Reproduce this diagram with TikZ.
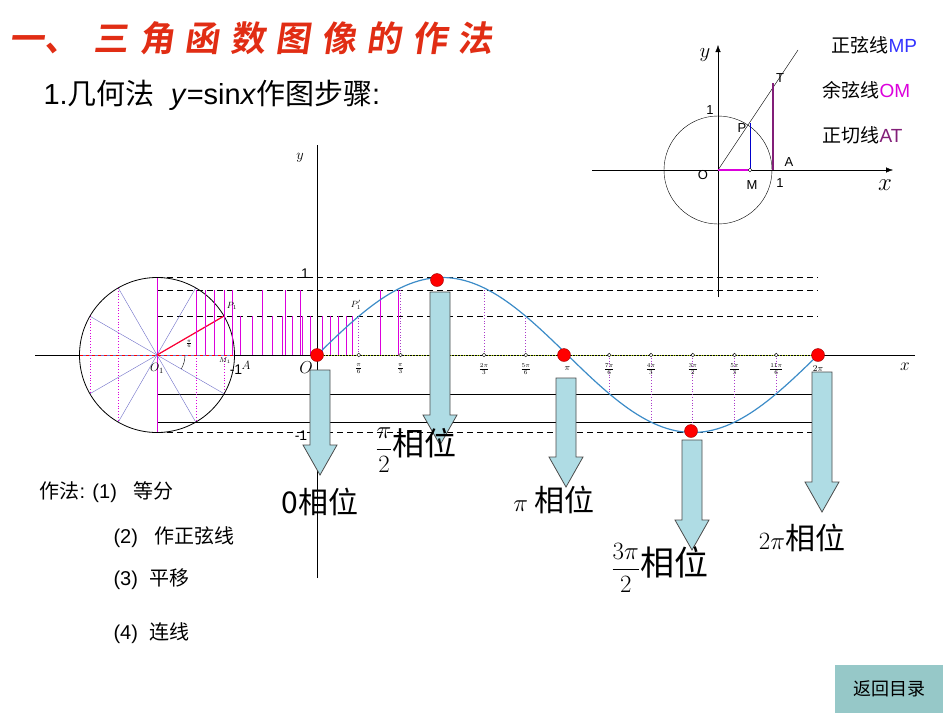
\documentclass[tikz,border=0pt]{standalone}
\usepackage{fontspec}
\setmainfont{Liberation Sans}
\newfontfamily\cjk{Noto Sans CJK SC}
\newfontfamily\cjkb{Noto Sans CJK SC}[BoldFont=* Bold]
\usetikzlibrary{arrows.meta}
\definecolor{titler}{RGB}{225,45,20}
\definecolor{mag}{RGB}{220,0,220}
\definecolor{rad}{RGB}{110,110,200}
\definecolor{curveb}{RGB}{60,140,200}
\definecolor{arrf}{RGB}{175,220,228}
\definecolor{btn}{RGB}{150,200,200}
\definecolor{dotp}{RGB}{170,60,200}
\definecolor{atc}{RGB}{130,30,120}
\tikzset{
 hline/.style={dashed,thick,dash pattern=on 6pt off 4pt},
 bigarrow/.style={draw=black!70,fill=arrf,line width=0.8pt},
 reddot/.style={circle,fill=red,draw=red!60!black,inner sep=0pt,minimum size=13pt},
 lab/.style={font=\cjk\fontsize{30}{30}\selectfont}
}
\newcommand\blockarrow[3]{\draw[bigarrow] ({#1-10},#2) -- ({#1+10},#2) -- ({#1+10},{#3-30}) -- ({#1+17},{#3-30}) -- (#1,#3) -- ({#1-17},{#3-30}) -- ({#1-10},{#3-30}) -- cycle;}
\begin{document}
\begin{tikzpicture}[x=1pt,y=-1pt]
\useasboundingbox (0,0) rectangle (950,713);
\fill[white] (0,0) rectangle (950,713);
% title
\node[anchor=west,text=titler,font=\cjkb\bfseries\fontsize{35}{35}\selectfont,xslant=0.15] (title) at (8,38) {一、\hspace{0.4em}三\hspace{0.3em}角\hspace{0.3em}函\hspace{0.3em}数\hspace{0.3em}图\hspace{0.3em}像\hspace{0.3em}的\hspace{0.3em}作\hspace{0.3em}法};
\node[anchor=west,font=\fontsize{29}{29}\selectfont] (sub) at (40,95) {1.{\cjk 几何法}\ \ \textit{y}=sin\textit{x}{\cjk 作图步骤}:};
% horizontal lines
\draw[hline] (157,277) -- (818,277);
\draw[hline] (157,290) -- (818,290);
\draw[hline] (157,316) -- (818,316);
\draw[thick] (157,394) -- (818,394);
\draw[thick] (157,422) -- (818,422);
\draw[hline] (157,432) -- (818,432);
% axes
\draw[thick] (35,355) -- (915,355);
\draw[thick] (317,578) -- (317,145);
\draw[yellow!70!green,dotted,thick] (317,355) -- (818,355);
% circle
\coordinate (O1) at (157,355);
\foreach \a in {0,30,...,330} \draw[rad] (O1) -- ++({77.5*cos(\a)},{-77.5*sin(\a)});
\draw[mag,thick] (157,277) -- (157,432);
\foreach \x in {90,118,196,224} \draw[mag,dotted,thick] (\x,{355-sqrt(77.5*77.5-(\x-157)*(\x-157))}) -- (\x,{355+sqrt(77.5*77.5-(\x-157)*(\x-157))});
\draw[red!80!magenta,very thick] (O1) -- (224,316);
\draw[red,dashed,thick] (80,355) -- (235,355);
\draw (185,355) arc (0:30:28);
\draw[thick] (O1) circle (77.5);
% pink projection lines
\foreach \x in {196,205,214,224,232} \draw[mag,thick] (\x,355) -- (\x,290);
\foreach \x in {240,252,262,272,282,292,302,310,322,330,338,346,352} \draw[mag,thick] (\x,355) -- (\x,316);
\foreach \x in {262,285,300,380,398} \draw[mag,thick] (\x,355) -- (\x,290);
% sine curve
\draw[curveb,very thick] plot[domain=0:360,samples=120] ({317+\x*1.391667},{355-77.5*sin(\x)});
% sample verticals and labels
\foreach \k/\t in {1/\frac{\pi}{6},2/\frac{\pi}{3},4/\frac{2\pi}{3},5/\frac{5\pi}{6},6/\pi,7/\frac{7\pi}{6},8/\frac{4\pi}{3},9/\frac{3\pi}{2},10/\frac{5\pi}{3},11/\frac{11\pi}{6},12/2\pi}{
 \draw[dotp,dotted,thick] ({317+\k*41.75},355) -- ({317+\k*41.75},{355-77.5*sin(\k*30)});
 \draw[fill=white] ({317+\k*41.75},355) circle (1.8);
 \node[font=\fontsize{9}{9}\selectfont] at ({317+\k*41.75},369) {$\t$};
}
% small labels
\node[font=\fontsize{14}{14}\selectfont] (one) at (305,274) {1};
\node[font=\fontsize{14}{14}\selectfont] (mone) at (301,436) {-1};
\node[font=\fontsize{18}{18}\selectfont] (xl) at (905,367) {$x$};
\node[font=\fontsize{15}{15}\selectfont] (yl) at (300,158) {$y$};
\node[font=\fontsize{16}{16}\selectfont] (Ol) at (306,368) {$O$};
\node[font=\fontsize{12}{12}\selectfont] (O1l) at (157,368) {$O_1$};
\node[font=\fontsize{12}{12}\selectfont] (Al) at (246,365) {$A$};
\node[font=\fontsize{7}{7}\selectfont] (Ml) at (225,361) {$M_1$};
\node[font=\fontsize{14}{14}\selectfont] (mol) at (236,370) {-1};
\node[font=\fontsize{9}{9}\selectfont] (Pl) at (232,306) {$P_1$};
\node[font=\fontsize{9}{9}\selectfont] (Ppl) at (356,305) {$P_1'$};
\node[font=\fontsize{7}{7}\selectfont] (angl) at (189,344) {$\frac{\pi}{6}$};
% arrows
\blockarrow{320}{370}{475}
\blockarrow{440}{292}{445}
\blockarrow{566}{378}{487}
\blockarrow{692}{440}{550}
\blockarrow{822}{372}{512}
% red dots
\node[reddot] (d0) at (317,355) {};
\node[reddot] (d1) at (437,280) {};
\node[reddot] (d2) at (564,355) {};
\node[reddot] (d3) at (691,431) {};
\node[reddot] (d4) at (818,355) {};
% phase labels
\node[lab] (l0) at (320,502) {0{\cjk 相位}};
\node[lab,anchor=west] (l1) at (372,450) {\fontsize{32}{32}\selectfont$\displaystyle\frac{\pi}{2}${\cjk 相位}};
\node[lab] (l2) at (554,500) {$\pi$ {\cjk 相位}};
\node[lab,anchor=west] (l3) at (608,568) {\fontsize{34}{34}\selectfont$\displaystyle\frac{3\pi}{2}${\cjk 相位}};
\node[lab] (l4) at (802,538) {$2\pi${\cjk 相位}};
% steps
\node[anchor=west,font=\fontsize{20}{20}\selectfont] (s1) at (36,492) {{\cjk 作法}: (1)\ \ \ {\cjk 等分}};
\node[anchor=west,font=\fontsize{20}{20}\selectfont] (s2) at (110,537) {(2)\ \ \ {\cjk 作正弦线}};
\node[anchor=west,font=\fontsize{20}{20}\selectfont] (s3) at (110,579) {(3)\ \ {\cjk 平移}};
\node[anchor=west,font=\fontsize{20}{20}\selectfont] (s4) at (110,633) {(4)\ \ {\cjk 连线}};
% button
\node[fill=btn,minimum width=108pt,minimum height=48pt,font=\cjk\fontsize{18}{18}\selectfont] (btnn) at (889,689) {返回目录};
% inset
\coordinate (o) at (718,170);
\draw[-{Latex[length=7pt]}] (592,170) -- (893,170);
\draw[-{Latex[length=7pt]}] (718,297) -- (718,45);
\draw (o) circle (54);
\draw (o) -- (798,50);
\draw[blue!80!black,thick] (750,170) -- (750,123);
\draw[mag,line width=2.5pt] (o) -- (750,170);
\draw[atc,line width=2.5pt] (773,170) -- (773,83);
\draw[fill=white] (750,170) circle (1.8);
\node[font=\fontsize{24}{24}\selectfont] (ix) at (885,185) {$x$};
\node[font=\fontsize{22}{22}\selectfont] (iy) at (705,55) {$y$};
\node[font=\fontsize{13}{13}\selectfont] (iO) at (703,175) {O};
\node[font=\fontsize{13}{13}\selectfont] (iM) at (752,185) {M};
\node[font=\fontsize{13}{13}\selectfont] (i1) at (780,183) {1};
\node[font=\fontsize{13}{13}\selectfont] (iA) at (789,162) {A};
\node[font=\fontsize{13}{13}\selectfont] (iP) at (742,128) {P};
\node[font=\fontsize{13}{13}\selectfont] (iT) at (780,78) {T};
\node[font=\fontsize{13}{13}\selectfont] (iy1) at (710,110) {1};
\node[anchor=west,font=\fontsize{19}{19}\selectfont] (k1) at (828,45) {{\cjk 正弦线}\textcolor{blue!80!white}{MP}};
\node[anchor=west,font=\fontsize{19}{19}\selectfont] (k2) at (819,90) {{\cjk 余弦线}\textcolor{mag}{OM}};
\node[anchor=west,font=\fontsize{19}{19}\selectfont] (k3) at (819,135) {{\cjk 正切线}\textcolor{atc}{AT}};
\end{tikzpicture}
\end{document}
